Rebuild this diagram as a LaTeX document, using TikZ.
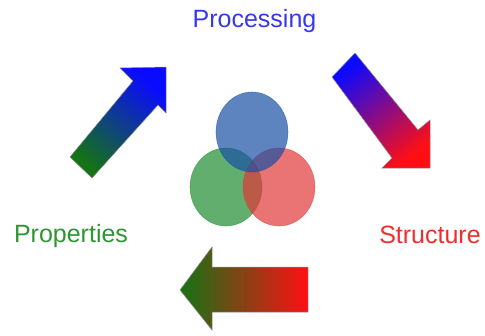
\documentclass[tikz,border=0pt]{standalone}
\usepackage{fontspec}
\setmainfont{Liberation Sans}
\usepackage{tikz}

\definecolor{ProcBlue}{RGB}{55,55,235}
\definecolor{PropGreen}{RGB}{45,150,50}
\definecolor{StrucRed}{RGB}{240,45,45}
\definecolor{DiscBlue}{RGB}{25,80,165}
\definecolor{DiscGreen}{RGB}{30,140,50}
\definecolor{DiscRed}{RGB}{225,55,55}
\definecolor{ArrGreen}{RGB}{20,115,20}
\definecolor{ArrBlue}{RGB}{10,10,255}
\definecolor{ArrMagenta}{RGB}{180,0,230}
\definecolor{ArrOrange}{RGB}{195,85,5}
\definecolor{ArrRed}{RGB}{255,15,20}

\tikzset{
  word/.style={anchor=base, font=\fontsize{25}{30}\selectfont},
  disc/.style={fill opacity=0.7, draw opacity=0.5, line width=0.6pt},
  fatarrow/.style={draw=black!45, line width=0.5pt, line join=miter}
}

\begin{document}
\begin{tikzpicture}[x=1pt,y=-1pt]

	\useasboundingbox (0,0) rectangle (485,335);

	% the three overlapping discs
	\draw[disc, fill=DiscGreen, draw=DiscGreen] (226,187) ellipse [x radius=36, y radius=39];
	\draw[disc, fill=DiscRed, draw=DiscRed] (279,187) ellipse [x radius=36, y radius=39];
	\draw[disc, fill=DiscBlue, draw=DiscBlue] (252,132) ellipse [x radius=36, y radius=40];

	% labels
	\node[word, text=ProcBlue] (proc) at (254.5,27) {Processing};
	\node[word, text=PropGreen] (prop) at (71,242) {Properties};
	\node[word, text=StrucRed] (struc) at (430,243) {Structure};

	% arrow from properties up to processing
	\shade[fatarrow, top color=ArrBlue, bottom color=ArrGreen, shading angle=-40]
	  (92,178) -- (158,105) -- (166,113) -- (166,67) -- (120,68) -- (133,81) -- (70,157) -- cycle;

	% arrow from processing down to structure
	\shade[fatarrow, top color=ArrBlue, middle color=ArrMagenta, bottom color=ArrRed, shading angle=38]
	  (355,53) -- (418,130) -- (430,120) -- (430,168) -- (382,168) -- (392,158) -- (332,77) -- cycle;

	% arrow from structure back to properties
	\shade[fatarrow, left color=ArrGreen, middle color=ArrOrange, right color=ArrRed]
	  (308,267) -- (212,267) -- (212,247) -- (180,290) -- (212,330) -- (212,312) -- (308,312) -- cycle;

\end{tikzpicture}
\end{document}
